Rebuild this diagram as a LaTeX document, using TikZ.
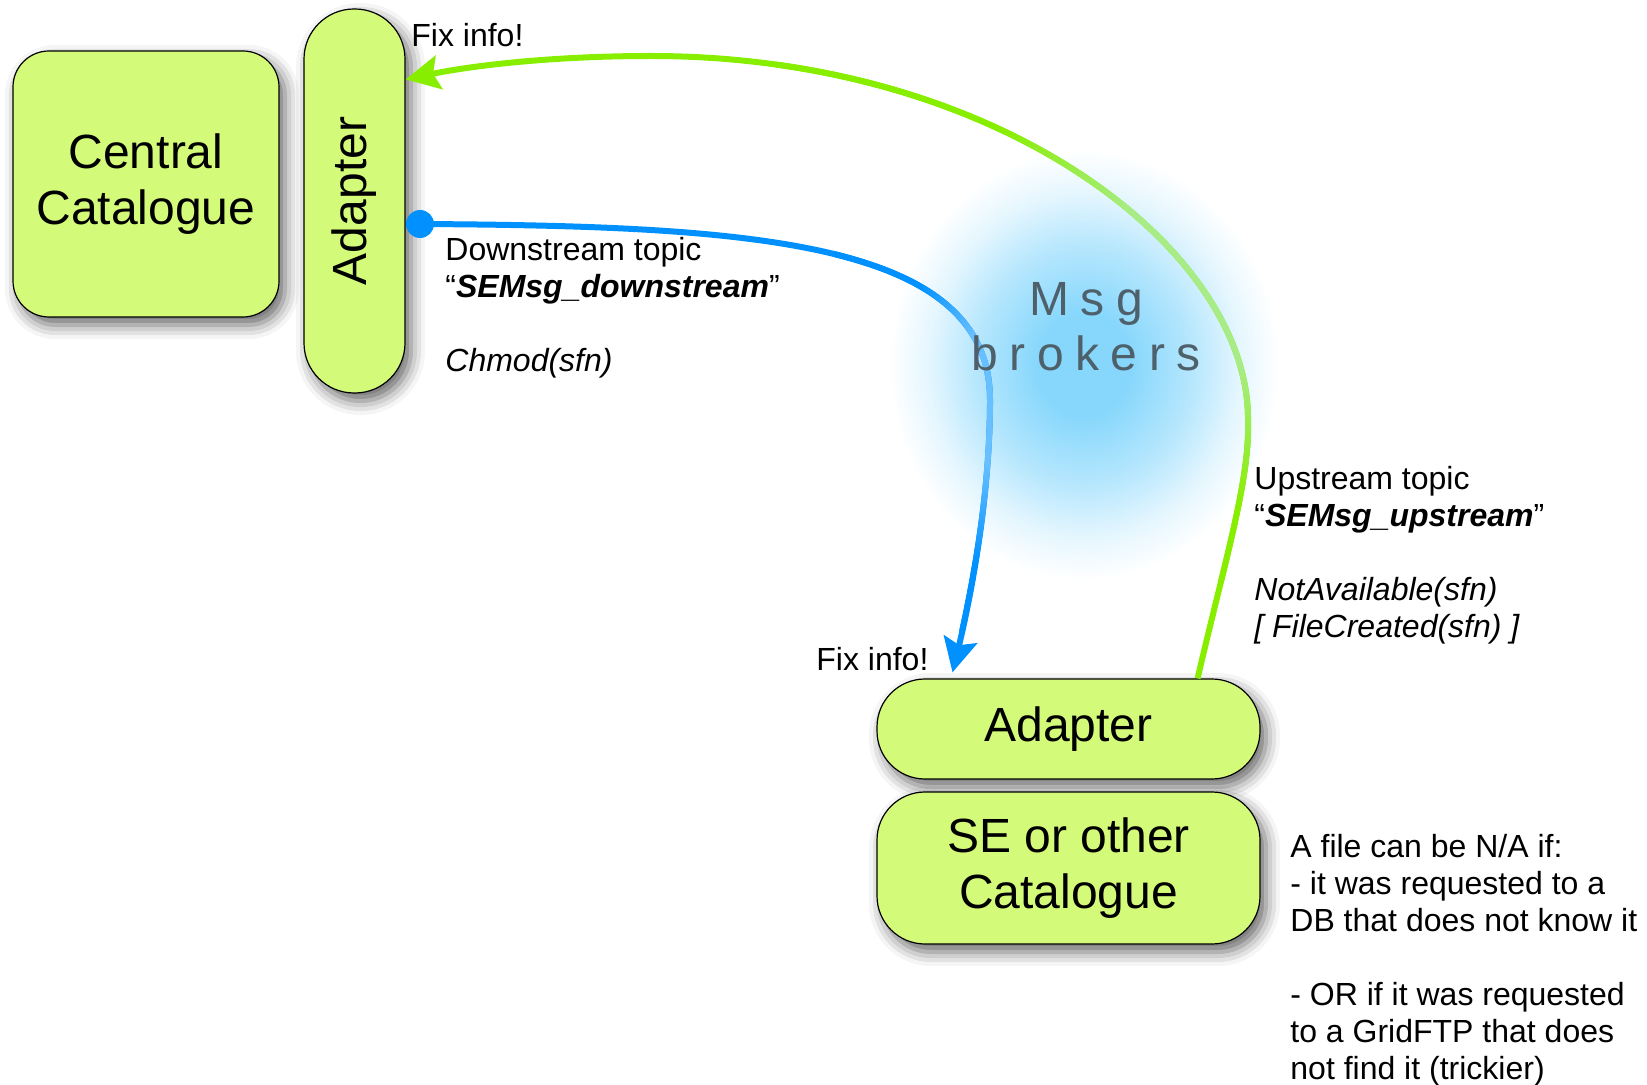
\documentclass[tikz,border=0pt]{standalone}
\usepackage{fontspec}
\setmainfont{Liberation Sans}
\newfontfamily\brokerfont[LetterSpace=24]{Liberation Sans}
\usepackage{xcolor}
\usetikzlibrary{positioning,calc,arrows.meta,shadows.blur,decorations.markings}

\definecolor{boxgreen}{RGB}{212,250,122}
\definecolor{upgreen}{RGB}{136,238,0}
\definecolor{upgreenpale}{RGB}{168,236,136}
\definecolor{downblue}{RGB}{0,145,255}
\definecolor{downbluepale}{RGB}{105,192,255}
\definecolor{glowblue}{RGB}{135,215,252}
\definecolor{brokergray}{RGB}{78,96,106}
\pgfdeclareradialshading{brokerglow}{\pgfpoint{0bp}{0bp}}{color(0bp)=(glowblue);color(6bp)=(glowblue);color(14bp)=(glowblue!60);color(20bp)=(glowblue!22);color(25bp)=(white);color(50bp)=(white)}

% pale middle part of a topic line: ramps #1-#2 up, #3-#4 down
\newcommand{\fadedot}[6]{%
  \pgfmathsetmacro\fadet{\pgfkeysvalueof{/pgf/decoration/mark info/distance from start}/\pgfdecoratedpathlength}%
  \pgfmathsetmacro\fadep{100*max(0,min(1,min((\fadet-#1)/(#2-#1),(#4-\fadet)/(#4-#3))))}%
  \colorlet{fadecol}{#5!\fadep!#6}%
  \fill[fadecol] (0,0) circle (1.5pt);}

\tikzset{
  box/.style={draw=black, line width=0.6pt, fill=boxgreen, inner sep=0pt,
    blur shadow={shadow xshift=3pt, shadow yshift=-4pt, shadow blur radius=7pt, shadow opacity=60}},
  bigtext/.style={font=\fontsize{24}{28}\selectfont, align=center},
  smalltext/.style={font=\fontsize{16}{18.5}\selectfont, align=left, anchor=north west, inner sep=0pt},
  topic/.style={line width=3pt, -{Stealth[length=17pt, width=17pt, inset=3pt]}}
}

\begin{document}
\begin{tikzpicture}[x=0.5pt, y=-0.5pt]
    \useasboundingbox (0,0) rectangle (1647,1085);

    % Glow
    \shade[shading=brokerglow] (1084,365) ellipse (195 and 215);

    % Boxes
    \node[box, bigtext, rounded corners=18pt, minimum width=133pt, minimum height=133pt] (cc) at (146,184) {Central\\Catalogue};
    \node[box, rounded corners=25pt, minimum width=50.5pt, minimum height=192pt] (adtop) at (354.5,201) {};
    \node[bigtext, rotate=90] (adtoplabel) at (adtop.center) {Adapter};
    \node[box, bigtext, rounded corners=24pt, minimum width=191.5pt, minimum height=50pt] (adbot) at (1068.5,729) {Adapter};
    \node[box, bigtext, rounded corners=24pt, minimum width=191.5pt, minimum height=76pt] (se) at (1068.5,868) {SE or other\\Catalogue};

    % Downstream topic
    \node[circle, fill=downblue, inner sep=0pt, minimum size=14pt, anchor=west] (dsdot) at ([yshift=-11.5pt]adtop.east) {};
    \coordinate (dsend) at ([xshift=-58pt, yshift=3pt]adbot.north);
    \draw[topic, downblue, postaction={decorate, decoration={markings,
        mark=between positions 0.45 and 0.95 step 0.6pt with {\fadedot{0.55}{0.63}{0.77}{0.88}{downbluepale}{downblue}}}}]
        (dsdot.center) .. controls (750,226) and (990,240) .. (990,400)
        .. controls (990,500) and (970,600) .. (dsend);

    % Upstream topic
    \coordinate (usstart) at ([xshift=-31.5pt]adbot.north east);
    \coordinate (usend) at ([yshift=-35.5pt]adtop.north east);
    \draw[topic, upgreen, postaction={decorate, decoration={markings,
        mark=between positions 0.08 and 0.7 step 0.6pt with {\fadedot{0.14}{0.25}{0.40}{0.52}{upgreenpale}{upgreen}}}}]
        (usstart) .. controls (1225,560) and (1250,480) .. (1248,420)
        .. controls (1249,250) and (1000,56) .. (651,56)
        .. controls (550,56) and (470,66) .. (usend);

    % Labels
    \node[font=\brokerfont\fontsize{24}{27.5}\selectfont, text=brokergray, align=center] (brokers) at (1086,327) {Msg\\brokers};
    \node[smalltext] (fixup) at (411,23) {Fix info!};
    \node[smalltext] (fixdown) at (816,647) {Fix info!};
    \node[smalltext] (dslabel) at (445,237) {Downstream topic\\“\textbf{\textit{SEMsg\_downstream}}”\\[18.5pt]\textit{Chmod(sfn)}};
    \node[smalltext] (uslabel) at (1254,466) {Upstream topic\\“\textbf{\textit{SEMsg\_upstream}}”\\[18.5pt]\textit{NotAvailable(sfn)}\\\textit{[ FileCreated(sfn) ]}};
    \node[smalltext] (nanote) at (1290,834) {A file can be N/A if:\\- it was requested to a\\DB that does not know it\\[18.5pt]- OR if it was requested\\to a GridFTP that does\\not find it (trickier)};
\end{tikzpicture}
\end{document}
